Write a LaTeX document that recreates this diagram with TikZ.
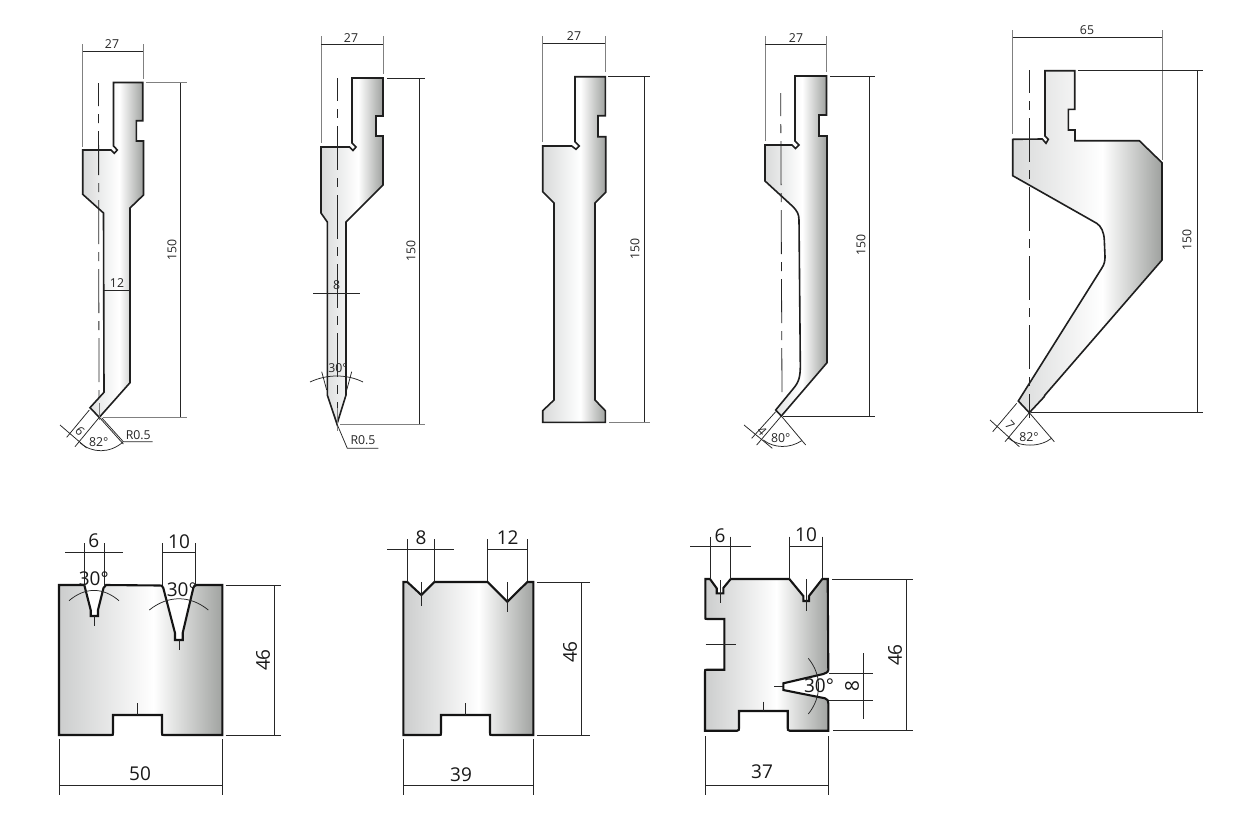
\documentclass[tikz,border=0pt]{standalone}
\usepackage{fontspec}
\setmainfont{Open Sans}
\pgfdeclarehorizontalshading{toolgrad}{100bp}{rgb(0bp)=(.85,.855,.855); rgb(25bp)=(.85,.855,.855); rgb(55bp)=(1,1,1); rgb(75bp)=(.62,.63,.62); rgb(100bp)=(.62,.63,.62)}
\pgfdeclarehorizontalshading{diegrad}{100bp}{rgb(0bp)=(.8,.805,.805); rgb(25bp)=(.8,.805,.805); rgb(54bp)=(1,1,1); rgb(75bp)=(.63,.64,.63); rgb(100bp)=(.63,.64,.63)}
\tikzset{
 toolbody/.style={shade,shading=toolgrad,draw=black!88,line width=1.6pt,line join=miter},
 diebody/.style={shade,shading=diegrad,draw=black!92,line width=2.1pt,line join=miter},
 thinline/.style={draw=black!85,line width=.75pt},
 greyline/.style={draw=black!50,line width=1pt},
 centerline/.style={draw=black!85,line width=.8pt,dash pattern=on 44pt off 8pt on 9pt off 8pt,dash phase=21pt},
 smalltxt/.style={font=\fontsize{12.3pt}{13pt}\selectfont,text=black!85,inner sep=0pt},
 bigtxt/.style={font=\fontsize{19pt}{20pt}\selectfont,text=black!90,inner sep=0pt},
}
\begin{document}
\begin{tikzpicture}[x=1pt,y=-1pt]
\useasboundingbox[fill=white] (0,0) rectangle (1250,825);
% ---- Tool 1
\path[toolbody] (113.5,82.5) -- (142.7,82.5) -- (142.7,120.7) -- (136.3,120.7) -- (136.3,141) -- (143.5,141) -- (143.5,195) -- (130,208) -- (130,382.7) -- (99.3,417.3) -- (90,407.7) -- (104,392.3) -- (103.5,213) -- (82.7,194.3) -- (82.7,150) -- (111,150) -- (114.3,153.3) -- (117.3,150) -- (113.5,146) -- cycle;
\draw[centerline] (98.5,83) -- (99,398);
\draw[greyline] (99.3,403) -- (99.3,420);
\draw[greyline] (82.7,44) -- (82.7,147);
\draw[greyline] (143.3,44) -- (143.3,79);
\draw[thinline] (82.7,51.7) -- (143.3,51.7);
\node[smalltxt] (a27) at (112,44) {27};
\draw[greyline] (146,82.5) -- (187,82.5);
\draw[thinline] (180,82.5) -- (180,417.5);
\draw[greyline] (103,417.5) -- (187,417.5);
\node[smalltxt,rotate=90] (a150) at (172,250) {150};
\draw[thinline] (104,290) -- (130,290);
\node[smalltxt] (a12) at (117,283) {12};
\draw[thinline] (99.3,417.3) -- (75,446.7);
\draw[thinline] (99.3,417.3) -- (123.3,444);
\draw[thinline] (101.7,417.8) -- (123.3,441.7) -- (152.7,441.7);
\node[smalltxt] (ar) at (138.3,435) {R0.5};
\draw[thinline] (80,442.7) .. controls (92,453.5) and (110,453.5) .. (123,442);
\node[smalltxt] (a82) at (98.7,442) {82°};
\draw[thinline] (89.3,410) -- (66.7,437.3);
\draw[thinline] (60,425) -- (86.7,448);
\node[smalltxt,rotate=-48] (a6) at (80,431) {6};
% ---- Tool 2
\path[toolbody] (352,78) -- (383,78) -- (383,116) -- (376,116) -- (376,136) -- (383,136) -- (383,185) -- (346,222) -- (346,395) -- (337,424) -- (327.3,395) -- (327.3,222) -- (321,213) -- (321,147) -- (349.5,147) -- (353,150.5) -- (356,147) -- (352,143) -- cycle;
\draw[centerline] (337,78) -- (337,420);
\draw[greyline] (321,36) -- (321,143);
\draw[greyline] (383,36) -- (383,74);
\draw[thinline] (321,44) -- (383,44);
\node[smalltxt] (b27) at (351,38) {27};
\draw[thinline] (387,78) -- (425,78);
\draw[thinline] (419,78) -- (419,424);
\draw[greyline] (340,424) -- (425,424);
\node[smalltxt,rotate=90] (b150) at (411,251) {150};
\draw[thinline] (313,293.3) -- (360,293.3);
\node[smalltxt] (b8) at (336.7,285) {8};
\node[smalltxt] (b30) at (338,368) {30°};
\draw[thinline] (310,382) .. controls (327,374) and (347,374) .. (363,382);
\draw[thinline] (321.7,371.7) -- (326.7,390);
\draw[thinline] (351.7,371.7) -- (346.7,390);
\draw[greyline] (337,408) -- (337,431);
\draw[thinline] (337,424) -- (347.3,448.3) -- (378.3,448.3);
\node[smalltxt] (br) at (363,440) {R0.5};
% ---- Tool 3
\path[toolbody] (575,76.7) -- (605.3,76.7) -- (605.3,115.7) -- (598,115.7) -- (598,136.7) -- (605.7,136.7) -- (605.7,192.3) -- (595,203) -- (595,400) -- (605.3,410.7) -- (605.3,422.3) -- (542.7,422.3) -- (542.7,410.7) -- (554,400) -- (554,203) -- (542.7,191.7) -- (542.7,146) -- (571.7,146) -- (576,149.3) -- (579.3,146) -- (575,141.7) -- cycle;
\draw[greyline] (542.7,36) -- (542.7,141.7);
\draw[greyline] (605.3,36) -- (605.3,72);
\draw[thinline] (542.7,43.3) -- (605.3,43.3);
\node[smalltxt] (c27) at (574,36) {27};
\draw[thinline] (608,76.7) -- (650,76.7);
\draw[thinline] (644,76.7) -- (644,422);
\draw[greyline] (609,422) -- (650,422);
\node[smalltxt,rotate=90] (c150) at (635,249) {150};
% ---- Tool 4
\path[toolbody] (795,76) -- (826.5,76) -- (826.5,115) -- (819,115) -- (819,136) -- (827,136) -- (827,362.7) -- (781.3,416) -- (775.7,410) -- (793,389) .. controls (799,382) and (800.5,377) .. (800.3,363) -- (799,220) .. controls (799,214) and (797,211) .. (793,206.7) -- (765,181) -- (765,145) -- (792,145) -- (795.5,148.5) -- (799,145) -- (795,141) -- cycle;
\draw[centerline] (780.7,93) -- (782,396);
\draw[greyline] (765,36) -- (765,141);
\draw[greyline] (826,36) -- (826,72);
\draw[thinline] (765,44) -- (826,44);
\node[smalltxt] (d27) at (796,38) {27};
\draw[thinline] (830,76.5) -- (875,76.5);
\draw[thinline] (869,76.5) -- (869,416);
\draw[thinline] (783,416) -- (875,416);
\node[smalltxt,rotate=90] (d150) at (861,245) {150};
\draw[thinline] (781.3,416) -- (756.7,445);
\draw[thinline] (781.3,416) -- (805.7,445);
\draw[thinline] (763.3,440) .. controls (774,448.5) and (790,448.5) .. (801.7,440.7);
\node[smalltxt] (d80) at (780.7,438.3) {80°};
\draw[thinline] (775.7,411.7) -- (751.7,438.3);
\draw[thinline] (744,425) -- (772.3,448.3);
\node[smalltxt,rotate=-48] (d4) at (762,431) {4};
% ---- Tool 5
\path[toolbody] (1045,70.7) -- (1074.7,70.7) -- (1074.7,109.3) -- (1068.3,109.3) -- (1068.3,130) -- (1075,130) -- (1075,140.7) -- (1139.3,140.7) -- (1162,162.7) -- (1162,260) -- (1045,395) -- (1044,397) -- (1029.3,412.7) -- (1018.3,401) -- (1101.7,268.3) .. controls (1104.5,264) and (1105,261) .. (1105,256.7) -- (1104.3,240) .. controls (1104,232) and (1101,226) .. (1096.7,223.3) -- (1012.7,175.7) -- (1012.7,139.3) -- (1042.3,139) -- (1046,143.3) -- (1048.3,139.3) -- (1045,136) -- cycle;
\draw[centerline] (1029.3,70) -- (1029.3,412);
\draw[greyline] (1012.7,30) -- (1012.7,134);
\draw[greyline] (1162,30) -- (1162,160);
\draw[thinline] (1012.7,37) -- (1162,37);
\node[smalltxt] (e65) at (1087,30) {65};
\draw[thinline] (1078,70.5) -- (1203,70.5);
\draw[thinline] (1197,70.5) -- (1197,412.7);
\draw[thinline] (1031,412.7) -- (1203,412.7);
\node[smalltxt,rotate=90] (e150) at (1187,240) {150};
\draw[thinline] (1029.3,412.7) -- (1054.3,441.7);
\draw[thinline] (1029.3,412.7) -- (1005,441.7);
\draw[thinline] (1029.3,412.7) -- (1029.3,418);
\draw[thinline] (1008,438) .. controls (1020,447.5) and (1040,447.5) .. (1052,438);
\node[smalltxt] (e82) at (1029,437) {82°};
\draw[thinline] (1016.7,403.3) -- (992.7,431.7);
\draw[thinline] (990,420) -- (1019.3,446.7);
\node[smalltxt,rotate=-48] (e7) at (1010,425) {7};
% ---- Die 1
\path[diebody] (59,585) -- (84.3,585) -- (90.7,610) -- (90.7,616) -- (98,616) -- (98,610) -- (103.5,588) .. controls (104,586) .. (106,585) -- (160,585.5) .. controls (162,585.5) .. (163.3,588) -- (175,633) -- (175,640) -- (182.7,640) -- (182.7,633) -- (193.3,588) .. controls (194,586) .. (196.7,585) -- (222.3,585) -- (222.3,735) -- (164,735) .. controls (162,735) .. (162,733) -- (162,715) -- (113,715) -- (113,733) .. controls (113,735) .. (111,735) -- (59,735) -- cycle;
\draw[thinline] (84.3,543) -- (84.3,586);
\draw[thinline] (104,543) -- (104,586);
\draw[thinline] (65,552.7) -- (123.3,552.7);
\node[bigtxt] (f6) at (93.7,541) {6};
\draw[thinline] (162.7,543) -- (162.7,585);
\draw[thinline] (195.7,543) -- (195.7,585);
\draw[thinline] (162.7,552.7) -- (195.7,552.7);
\node[bigtxt] (f10) at (179,542) {10};
\node[bigtxt] (f30a) at (93.7,579) {30°};
\draw[thinline] (69,600.7) .. controls (85,587) and (103,587) .. (119,600.7);
\draw[thinline] (94.3,616) -- (94.3,626);
\node[bigtxt] (f30b) at (181.7,589.3) {30°};
\draw[thinline] (149.3,610) .. controls (168,595) and (190,595) .. (208.3,610);
\draw[thinline] (179,640) -- (179,650);
\draw[thinline] (137.5,703) -- (137.5,715);
\draw[thinline] (225.7,585) -- (281,585);
\draw[thinline] (225.7,735) -- (281,735);
\draw[thinline] (274,585) -- (274,735);
\node[bigtxt,rotate=90] (f46) at (263,660) {46};
\draw[thinline] (59,739) -- (59,795);
\draw[thinline] (222,739) -- (222,795);
\draw[thinline] (59,785) -- (222,785);
\node[bigtxt] (f50) at (140,774) {50};
% ---- Die 2
\path[diebody] (403.3,582) -- (407.3,582) -- (421.3,595) -- (434.3,582) -- (487.7,582) -- (507.3,601.7) -- (527.3,582) -- (533.3,582) -- (533.3,735) -- (492,735) .. controls (490,735) .. (490,733) -- (490,715) -- (441,715) -- (441,733) .. controls (441,735) .. (439,735) -- (403.3,735) -- cycle;
\draw[thinline] (407.7,539.3) -- (407.7,582);
\draw[thinline] (434.7,539.3) -- (434.7,582);
\draw[thinline] (387,549.3) -- (454.3,549.3);
\node[bigtxt] (g8) at (421,538) {8};
\draw[thinline] (487.7,539.3) -- (487.7,581);
\draw[thinline] (527.3,539.3) -- (527.3,581);
\draw[thinline] (487.7,549.3) -- (527.3,549.3);
\node[bigtxt] (g12) at (507.7,538) {12};
\draw[thinline] (421.3,582.3) -- (421.3,606);
\draw[thinline] (507.7,582.3) -- (507.7,612);
\draw[thinline] (465.5,703) -- (465.5,715);
\draw[thinline] (537,582) -- (590,582);
\draw[thinline] (537,735) -- (590,735);
\draw[thinline] (581,582) -- (581,735);
\node[bigtxt,rotate=90] (g46) at (570,652) {46};
\draw[thinline] (403,739) -- (403,795);
\draw[thinline] (533,739) -- (533,795);
\draw[thinline] (403,785) -- (533,785);
\node[bigtxt] (g39) at (461,775) {39};
% ---- Die 3
\path[diebody] (705.3,579) -- (710,579) -- (716.7,588.3) -- (716.7,593.3) -- (723.3,593.3) -- (723.3,588) -- (730.7,579) -- (789.3,579) -- (803.3,596) -- (803.3,601) -- (809,601) -- (809,596) -- (822.3,579) -- (827.7,579) -- (828.3,670) .. controls (828,672) .. (823.3,674) -- (783.3,683.3) -- (783.3,690) -- (825,698.3) .. controls (828,700) .. (828.3,703.3) -- (828.3,730.7) -- (789.7,730.7) .. controls (787.7,730) .. (787.7,728) -- (787.7,711) -- (739,711) -- (739,728) .. controls (739,730) .. (737,730.7) -- (705,730.7) -- (705,671.7) .. controls (705,669.7) .. (707,669.7) -- (724.3,669.7) -- (724.3,619) -- (707,619) .. controls (705.3,619) .. (705.3,617) -- cycle;
\draw[thinline] (710,536.7) -- (710,579);
\draw[thinline] (730.7,536.7) -- (730.7,579);
\draw[thinline] (690,546.7) -- (750.7,546.7);
\node[bigtxt] (h6) at (720,536) {6};
\draw[thinline] (789.3,536.7) -- (789.3,579);
\draw[thinline] (822.7,536.7) -- (822.7,578);
\draw[thinline] (789.3,546.7) -- (822.7,546.7);
\node[bigtxt] (h10) at (806,535) {10};
\draw[thinline] (720,580) -- (720,603.3);
\draw[thinline] (806,579) -- (806,610.7);
\draw[thinline] (705.7,644) -- (735.7,644);
\draw[thinline] (774,686.7) -- (783.3,686.7);
\draw[thinline] (763,701.7) -- (763,711);
\draw[thinline] (832.3,579) -- (913,579);
\draw[thinline] (833.3,730.7) -- (913,730.7);
\draw[thinline] (906,579) -- (906,730.7);
\node[bigtxt,rotate=90] (h46) at (895,655) {46};
\draw[thinline] (829,673.3) -- (873.3,673.3);
\draw[thinline] (829,700) -- (873.3,700);
\draw[thinline] (863.3,653.3) -- (863.3,719.3);
\node[bigtxt,rotate=90] (h8) at (852,686) {8};
\node[bigtxt] (h30) at (819,686) {30°};
\draw[thinline] (808.3,658.3) .. controls (822,675) and (822,697) .. (808.3,714);
\draw[thinline] (705.3,736) -- (705.3,795);
\draw[thinline] (828.3,736) -- (828.3,795);
\draw[thinline] (705.3,785) -- (828.3,785);
\node[bigtxt] (h37) at (762,772) {37};
\end{tikzpicture}
\end{document}
